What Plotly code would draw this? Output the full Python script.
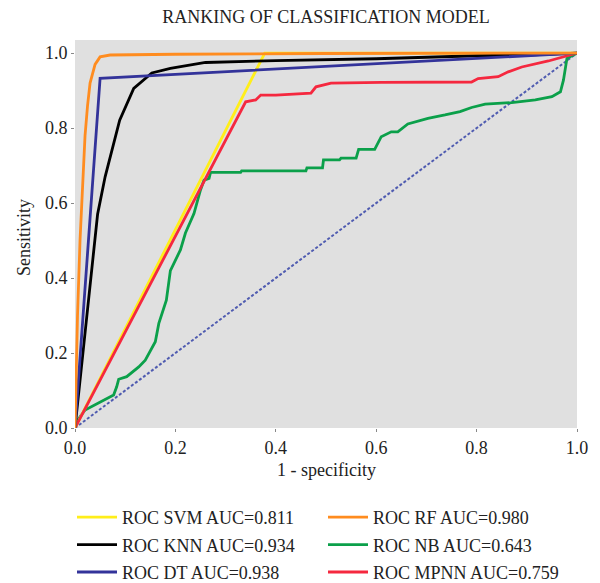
import plotly.graph_objects as go

title = "RANKING OF CLASSIFICATION MODEL"
x_title = "1 - specificity"
y_title = "Sensitivity"

svm_x = [0.0, 0.378, 1.0]
svm_y = [0.0, 1.0, 1.0]

rf_x = [0.0, 0.002, 0.005, 0.01, 0.015, 0.02, 0.025, 0.03, 0.04, 0.05, 0.07, 0.2, 0.5, 1.0]
rf_y = [0.0, 0.15, 0.3, 0.5, 0.65, 0.78, 0.86, 0.92, 0.97, 0.99, 0.995, 0.997, 0.999, 1.0]

knn_x = [0.0, 0.027, 0.045, 0.06, 0.089, 0.117, 0.153, 0.19, 0.26, 0.4, 0.6, 0.8, 0.9, 1.0]
knn_y = [0.0, 0.34, 0.57, 0.67, 0.821, 0.906, 0.947, 0.959, 0.975, 0.98, 0.985, 0.993, 0.995, 1.0]

dt_x = [0.0, 0.05, 1.0]
dt_y = [0.0, 0.933, 1.0]

nb_x = [0.0, 0.005, 0.02, 0.033, 0.077, 0.083, 0.087, 0.103, 0.127, 0.14, 0.147, 0.16, 0.167,
        0.177, 0.182, 0.19, 0.21, 0.22, 0.237, 0.25, 0.257, 0.267, 0.27, 0.33, 0.332, 0.46,
        0.462, 0.493, 0.495, 0.527, 0.53, 0.56, 0.565, 0.597, 0.61, 0.63, 0.643, 0.663, 0.703,
        0.737, 0.767, 0.79, 0.817, 0.87, 0.917, 0.95, 0.967, 0.973, 0.98, 1.0]
nb_y = [0.0, 0.02, 0.048, 0.057, 0.088, 0.11, 0.13, 0.137, 0.163, 0.181, 0.199, 0.23, 0.279,
        0.319, 0.341, 0.42, 0.475, 0.52, 0.572, 0.635, 0.661, 0.666, 0.682, 0.682, 0.686, 0.686,
        0.694, 0.694, 0.715, 0.715, 0.72, 0.72, 0.743, 0.743, 0.777, 0.79, 0.79, 0.811, 0.826,
        0.835, 0.844, 0.855, 0.864, 0.868, 0.875, 0.884, 0.897, 0.928, 0.986, 1.0]

mpnn_x = [0.0, 0.34, 0.36, 0.37, 0.4, 0.47, 0.48, 0.51, 0.61, 0.79, 0.803, 0.843, 0.863, 0.89, 0.943, 1.0]
mpnn_y = [0.0, 0.87, 0.875, 0.888, 0.888, 0.893, 0.91, 0.92, 0.922, 0.923, 0.932, 0.937, 0.95, 0.963, 0.979, 1.0]

diag_x = [0.0, 1.0]
diag_y = [0.0, 1.0]

names = {
    "svm": "ROC SVM AUC=0.811",
    "rf": "ROC RF AUC=0.980",
    "knn": "ROC KNN AUC=0.934",
    "nb": "ROC NB AUC=0.643",
    "dt": "ROC DT AUC=0.938",
    "mpnn": "ROC MPNN AUC=0.759",
}

FONT = "Liberation Serif"
W, H = 600, 583
fig = go.Figure()

fig.add_trace(go.Scatter(x=diag_x, y=diag_y, mode="lines", showlegend=False,
                         line=dict(color="#4f5bb0", width=2, dash="3px,2px")))

def add(x, y, key, color, legend, rank):
    fig.add_trace(go.Scatter(x=x, y=y, mode="lines", name=names[key],
                             line=dict(color=color, width=2.8),
                             legend=legend, legendrank=rank, legendgroup=key))

add(nb_x, nb_y, "nb", "#0ba04a", "legend2", 2)
add(svm_x, svm_y, "svm", "#ffee1a", "legend", 1)
add(mpnn_x, mpnn_y, "mpnn", "#f5283f", "legend2", 3)
add(knn_x, knn_y, "knn", "#000000", "legend", 2)
add(dt_x, dt_y, "dt", "#33339a", "legend", 3)
add(rf_x, rf_y, "rf", "#ff8c1f", "legend2", 1)

leg_common = dict(font=dict(family=FONT, size=18, color="#222"), bgcolor="rgba(0,0,0,0)",
                  tracegroupgap=1, itemwidth=40, yanchor="top", xanchor="left", orientation="v",
                  xref="container", yref="container")

fig.update_layout(
    width=W, height=H,
    margin=dict(l=75, r=23, t=40, b=155, autoexpand=False),
    paper_bgcolor="white",
    plot_bgcolor="#e0e0e0",
    title=dict(text=title, x=(75 + 577) / 2 / W, xanchor="center", xref="container",
               y=1 - 17 / H, yanchor="middle", yref="container",
               font=dict(family=FONT, size=18, color="#222")),
    font=dict(family=FONT, size=18, color="#222"),
    legend=dict(x=72 / W, y=1 - 499 / H, **leg_common),
    legend2=dict(x=323 / W, y=1 - 499 / H, **leg_common),
    xaxis=dict(range=[0, 1.0], tickvals=[0, 0.2, 0.4, 0.6, 0.8, 1.0], tickformat=".1f",
               showgrid=False, zeroline=False, ticks="outside", ticklen=3, tickcolor="#888",
               tickfont=dict(family=FONT, size=18)),
    yaxis=dict(range=[0, 1.035], tickvals=[0, 0.2, 0.4, 0.6, 0.8, 1.0], tickformat=".1f",
               showgrid=False, zeroline=False, ticks="outside", ticklen=3, tickcolor="#888",
               tickfont=dict(family=FONT, size=18)),
    annotations=[
        dict(text=x_title, xref="paper", yref="paper", x=0.5, y=-(470 - 428) / (428 - 40),
             xanchor="center", yanchor="middle", showarrow=False,
             font=dict(family=FONT, size=18, color="#222")),
        dict(text=y_title, xref="paper", yref="paper", x=-(75 - 24) / (577 - 75),
             y=(428 - 238) / (428 - 40), xanchor="center", yanchor="middle", showarrow=False,
             textangle=-90, font=dict(family=FONT, size=18, color="#222")),
    ],
)

fig.write_html("out.html")
